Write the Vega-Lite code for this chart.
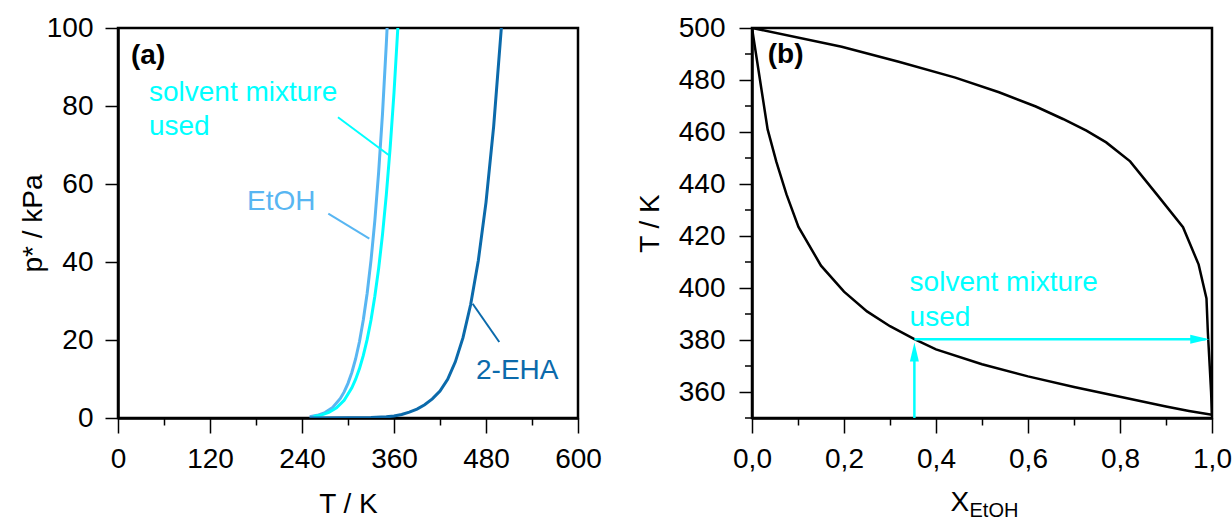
{
  "$schema": "https://vega.github.io/schema/vega-lite/v6.json",
  "padding": {"left": 17, "top": 12, "right": 0, "bottom": 0},
  "background": "white",
  "datasets": {
    "vp": [
      {"species": "EtOH", "T": 250, "p": 0.32}, {"species": "EtOH", "T": 260, "p": 0.68}, {"species": "EtOH", "T": 270, "p": 1.39},
      {"species": "EtOH", "T": 280, "p": 2.7}, {"species": "EtOH", "T": 290, "p": 5.0}, {"species": "EtOH", "T": 295, "p": 6.69},
      {"species": "EtOH", "T": 300, "p": 8.88}, {"species": "EtOH", "T": 305, "p": 11.67}, {"species": "EtOH", "T": 310, "p": 15.2},
      {"species": "EtOH", "T": 315, "p": 19.6}, {"species": "EtOH", "T": 320, "p": 25.2}, {"species": "EtOH", "T": 325, "p": 32.0},
      {"species": "EtOH", "T": 330, "p": 40.4}, {"species": "EtOH", "T": 335, "p": 50.6}, {"species": "EtOH", "T": 340, "p": 63.1},
      {"species": "EtOH", "T": 345, "p": 78.0}, {"species": "EtOH", "T": 350, "p": 96.0}, {"species": "EtOH", "T": 351, "p": 100.0},
      {"species": "EtOH", "T": 352, "p": 104.1},
      {"species": "solvent mixture", "T": 255, "p": 0.37}, {"species": "solvent mixture", "T": 265, "p": 0.74}, {"species": "solvent mixture", "T": 275, "p": 1.41},
      {"species": "solvent mixture", "T": 285, "p": 2.59}, {"species": "solvent mixture", "T": 295, "p": 4.56}, {"species": "solvent mixture", "T": 305, "p": 7.73},
      {"species": "solvent mixture", "T": 310, "p": 9.94}, {"species": "solvent mixture", "T": 315, "p": 12.67}, {"species": "solvent mixture", "T": 320, "p": 16.04},
      {"species": "solvent mixture", "T": 325, "p": 20.16}, {"species": "solvent mixture", "T": 330, "p": 25.15}, {"species": "solvent mixture", "T": 335, "p": 31.2},
      {"species": "solvent mixture", "T": 340, "p": 38.4}, {"species": "solvent mixture", "T": 345, "p": 47.0}, {"species": "solvent mixture", "T": 350, "p": 57.3},
      {"species": "solvent mixture", "T": 355, "p": 69.3}, {"species": "solvent mixture", "T": 360, "p": 83.4}, {"species": "solvent mixture", "T": 365, "p": 100.0},
      {"species": "solvent mixture", "T": 366, "p": 103.6},
      {"species": "2-EHA", "T": 250, "p": 0.01}, {"species": "2-EHA", "T": 300, "p": 0.05}, {"species": "2-EHA", "T": 330, "p": 0.12},
      {"species": "2-EHA", "T": 350, "p": 0.3}, {"species": "2-EHA", "T": 360, "p": 0.5}, {"species": "2-EHA", "T": 370, "p": 0.9},
      {"species": "2-EHA", "T": 380, "p": 1.5}, {"species": "2-EHA", "T": 390, "p": 2.3}, {"species": "2-EHA", "T": 400, "p": 3.4},
      {"species": "2-EHA", "T": 410, "p": 4.9}, {"species": "2-EHA", "T": 420, "p": 6.9}, {"species": "2-EHA", "T": 430, "p": 9.9},
      {"species": "2-EHA", "T": 440, "p": 14.4}, {"species": "2-EHA", "T": 450, "p": 20.6}, {"species": "2-EHA", "T": 460, "p": 29.1},
      {"species": "2-EHA", "T": 470, "p": 40.4}, {"species": "2-EHA", "T": 480, "p": 55.3}, {"species": "2-EHA", "T": 490, "p": 74.8},
      {"species": "2-EHA", "T": 500, "p": 100.0}, {"species": "2-EHA", "T": 501, "p": 102.9}
    ],
    "ptr_a": [
      {"species": "EtOH", "T1": 274.3, "p1": 52.4, "T2": 327.8, "p2": 46.0},
      {"species": "solvent mixture", "T1": 286.9, "p1": 77.1, "T2": 353.9, "p2": 67.3},
      {"species": "2-EHA", "T1": 462.6, "p1": 29.3, "T2": 497.3, "p2": 19.5}
    ],
    "lbl_a": [
      {"species": "solvent mixture", "T": 40.4, "p": 81.3, "text": "solvent mixture"},
      {"species": "solvent mixture", "T": 40.4, "p": 72.6, "text": "used"},
      {"species": "EtOH", "T": 168.3, "p": 53.4, "text": "EtOH"},
      {"species": "2-EHA", "T": 467, "p": 9.9, "text": "2-EHA"}
    ],
    "tag_a": [{"T": 17, "p": 92.7, "text": "(a)"}],
    "vle": [
      {"curve": "liquid", "i": 0, "X": 0, "T": 500}, {"curve": "liquid", "i": 1, "X": 0.02, "T": 477},
      {"curve": "liquid", "i": 2, "X": 0.034, "T": 461}, {"curve": "liquid", "i": 3, "X": 0.053, "T": 448.5},
      {"curve": "liquid", "i": 4, "X": 0.075, "T": 436}, {"curve": "liquid", "i": 5, "X": 0.101, "T": 423.5},
      {"curve": "liquid", "i": 6, "X": 0.15, "T": 408.6}, {"curve": "liquid", "i": 7, "X": 0.2, "T": 398.6},
      {"curve": "liquid", "i": 8, "X": 0.25, "T": 391}, {"curve": "liquid", "i": 9, "X": 0.3, "T": 385.3},
      {"curve": "liquid", "i": 10, "X": 0.353, "T": 380.3}, {"curve": "liquid", "i": 11, "X": 0.4, "T": 376.4},
      {"curve": "liquid", "i": 12, "X": 0.5, "T": 370.7}, {"curve": "liquid", "i": 13, "X": 0.6, "T": 366},
      {"curve": "liquid", "i": 14, "X": 0.7, "T": 361.9}, {"curve": "liquid", "i": 15, "X": 0.8, "T": 358.2},
      {"curve": "liquid", "i": 16, "X": 0.9, "T": 354.4}, {"curve": "liquid", "i": 17, "X": 0.95, "T": 352.7},
      {"curve": "liquid", "i": 18, "X": 1.0, "T": 351.2},
      {"curve": "vapour", "i": 0, "X": 0, "T": 500}, {"curve": "vapour", "i": 1, "X": 0.195, "T": 492.8},
      {"curve": "vapour", "i": 2, "X": 0.319, "T": 487.0}, {"curve": "vapour", "i": 3, "X": 0.442, "T": 480.9},
      {"curve": "vapour", "i": 4, "X": 0.537, "T": 475.3}, {"curve": "vapour", "i": 5, "X": 0.617, "T": 469.8},
      {"curve": "vapour", "i": 6, "X": 0.676, "T": 465.0}, {"curve": "vapour", "i": 7, "X": 0.727, "T": 460.5},
      {"curve": "vapour", "i": 8, "X": 0.77, "T": 456.0}, {"curve": "vapour", "i": 9, "X": 0.822, "T": 448.7},
      {"curve": "vapour", "i": 10, "X": 0.88, "T": 436.0}, {"curve": "vapour", "i": 11, "X": 0.937, "T": 423.4},
      {"curve": "vapour", "i": 12, "X": 0.971, "T": 409.0}, {"curve": "vapour", "i": 13, "X": 0.988, "T": 396.0},
      {"curve": "vapour", "i": 14, "X": 0.991, "T": 383.0}, {"curve": "vapour", "i": 15, "X": 0.995, "T": 370.0},
      {"curve": "vapour", "i": 16, "X": 0.998, "T": 360.0}, {"curve": "vapour", "i": 17, "X": 1.0, "T": 351.2}
    ],
    "minor_b": [
      {"T": 350}, {"T": 370}, {"T": 390}, {"T": 410}, {"T": 430}, {"T": 450}, {"T": 470}, {"T": 490}
    ],
    "arrows_b": [
      {"X1": 0.353, "T1": 350, "X2": 0.353, "T2": 372},
      {"X1": 0.353, "T1": 380.3, "X2": 0.986, "T2": 380.3}
    ],
    "head_up": [{"X": 0.353, "T": 379}],
    "head_right": [{"X": 0.994, "T": 380.3}],
    "lbl_b": [
      {"X": 0.3426, "T": 398.9, "text": "solvent mixture"},
      {"X": 0.3426, "T": 385.5, "text": "used"}
    ],
    "tag_b": [{"X": 0.0343, "T": 489.5, "text": "(b)"}],
    "sub_b": [{"X": 0.4728, "T": 312.0, "text": "EtOH"}]
  },
  "hconcat": [
    {
      "width": 460,
      "height": 390,
      "layer": [
        {
          "data": {"name": "vp"},
          "mark": {"type": "line", "strokeWidth": 3, "clip": true},
          "encoding": {
            "x": {
              "field": "T", "type": "quantitative",
              "scale": {"domain": [0, 600], "nice": false},
              "axis": {
                "title": "T / K",
                "values": [0, 60, 120, 180, 240, 300, 360, 420, 480, 540, 600],
                "labelExpr": "datum.value % 120 === 0 ? datum.label : ''",
                "tickSize": {"condition": {"test": "datum.value % 120 === 0", "value": 15}, "value": 7},
                "labelPadding": 34,
                "labelBaseline": "alphabetic",
                "titleY": 94,
                "titleBaseline": "alphabetic"
              }
            },
            "y": {
              "field": "p", "type": "quantitative",
              "scale": {"domain": [0, 100], "nice": false},
              "axis": {
                "title": "p* / kPa",
                "values": [0, 10, 20, 30, 40, 50, 60, 70, 80, 90, 100],
                "labelExpr": "datum.value % 20 === 0 ? datum.label : ''",
                "tickSize": {"condition": {"test": "datum.value % 20 === 0", "value": 13}, "value": 7},
                "labelPadding": 12,
                "titleX": -77,
                "titleY": 195,
                "titleBaseline": "alphabetic"
              }
            },
            "color": {
              "field": "species", "type": "nominal",
              "scale": {"domain": ["EtOH", "solvent mixture", "2-EHA"], "range": ["#58b6f2", "#00ffff", "#0b6aab"]},
              "legend": null
            },
            "order": {"field": "T", "type": "quantitative"}
          }
        },
        {
          "data": {"name": "ptr_a"},
          "mark": {"type": "rule", "strokeWidth": 2},
          "encoding": {
            "x": {"field": "T1", "type": "quantitative"},
            "y": {"field": "p1", "type": "quantitative"},
            "x2": {"field": "T2"},
            "y2": {"field": "p2"},
            "color": {"field": "species", "type": "nominal", "legend": null}
          }
        },
        {
          "data": {"name": "lbl_a"},
          "mark": {"type": "text", "align": "left", "baseline": "alphabetic", "fontSize": 28, "font": "Liberation Sans"},
          "encoding": {
            "x": {"field": "T", "type": "quantitative"},
            "y": {"field": "p", "type": "quantitative"},
            "text": {"field": "text"},
            "color": {"field": "species", "type": "nominal", "legend": null}
          }
        },
        {
          "data": {"name": "tag_a"},
          "mark": {"type": "text", "align": "left", "baseline": "middle", "fontSize": 28, "fontWeight": "bold", "color": "black", "font": "Liberation Sans"},
          "encoding": {
            "x": {"field": "T", "type": "quantitative"},
            "y": {"field": "p", "type": "quantitative"},
            "text": {"field": "text"}
          }
        }
      ]
    },
    {
      "width": 460,
      "height": 390,
      "layer": [
        {
          "data": {"name": "vle"},
          "mark": {"type": "line", "strokeWidth": 2.5, "color": "black", "clip": true},
          "encoding": {
            "x": {
              "field": "X", "type": "quantitative",
              "scale": {"domain": [0, 1], "nice": false},
              "axis": {
                "title": "X",
                "values": [0, 0.1, 0.2, 0.3, 0.4, 0.5, 0.6, 0.7, 0.8, 0.9, 1.0],
                "labelExpr": "round(datum.value * 10) % 2 === 0 ? replace(format(datum.value, '.1f'), '.', ',') : ''",
                "tickSize": {"condition": {"test": "round(datum.value * 10) % 2 === 0", "value": 15}, "value": 7},
                "labelPadding": 34,
                "labelBaseline": "alphabetic",
                "titleX": 198,
                "titleY": 92,
                "titleAlign": "left",
                "titleBaseline": "alphabetic"
              }
            },
            "y": {
              "field": "T", "type": "quantitative",
              "scale": {"domain": [350, 500], "nice": false},
              "axis": {
                "title": "T / K",
                "values": [360, 380, 400, 420, 440, 460, 480, 500],
                "format": "d",
                "tickSize": 13,
                "labelPadding": 14,
                "titleX": -94,
                "titleY": 195,
                "titleBaseline": "alphabetic"
              }
            },
            "detail": {"field": "curve", "type": "nominal"},
            "order": {"field": "i", "type": "quantitative"}
          }
        },
        {
          "data": {"name": "minor_b"},
          "mark": {"type": "tick", "orient": "horizontal", "size": 7, "thickness": 1.5, "xOffset": -3.5, "color": "black", "opacity": 1},
          "encoding": {
            "x": {"datum": 0, "type": "quantitative"},
            "y": {"field": "T", "type": "quantitative"}
          }
        },
        {
          "data": {"name": "arrows_b"},
          "mark": {"type": "rule", "strokeWidth": 2.5, "color": "#00ffff"},
          "encoding": {
            "x": {"field": "X1", "type": "quantitative"},
            "y": {"field": "T1", "type": "quantitative"},
            "x2": {"field": "X2"},
            "y2": {"field": "T2"}
          }
        },
        {
          "data": {"name": "head_up"},
          "mark": {"type": "point", "shape": "M 0 0 L 0.45 1.9 L -0.45 1.9 Z", "size": 400, "filled": true, "color": "#00ffff", "opacity": 1, "strokeWidth": 0},
          "encoding": {
            "x": {"field": "X", "type": "quantitative"},
            "y": {"field": "T", "type": "quantitative"}
          }
        },
        {
          "data": {"name": "head_right"},
          "mark": {"type": "point", "shape": "M 0 0 L -1.9 -0.45 L -1.9 0.45 Z", "size": 400, "filled": true, "color": "#00ffff", "opacity": 1, "strokeWidth": 0},
          "encoding": {
            "x": {"field": "X", "type": "quantitative"},
            "y": {"field": "T", "type": "quantitative"}
          }
        },
        {
          "data": {"name": "lbl_b"},
          "mark": {"type": "text", "align": "left", "baseline": "alphabetic", "fontSize": 28, "color": "#00ffff", "font": "Liberation Sans"},
          "encoding": {
            "x": {"field": "X", "type": "quantitative"},
            "y": {"field": "T", "type": "quantitative"},
            "text": {"field": "text"}
          }
        },
        {
          "data": {"name": "tag_b"},
          "mark": {"type": "text", "align": "left", "baseline": "middle", "fontSize": 28, "fontWeight": "bold", "color": "black", "font": "Liberation Sans"},
          "encoding": {
            "x": {"field": "X", "type": "quantitative"},
            "y": {"field": "T", "type": "quantitative"},
            "text": {"field": "text"}
          }
        },
        {
          "data": {"name": "sub_b"},
          "mark": {"type": "text", "align": "left", "baseline": "alphabetic", "fontSize": 20, "color": "black", "font": "Liberation Sans", "clip": false},
          "encoding": {
            "x": {"field": "X", "type": "quantitative"},
            "y": {"field": "T", "type": "quantitative"},
            "text": {"field": "text"}
          }
        }
      ]
    }
  ],
  "spacing": 174,
  "bounds": "flush",
  "resolve": {"scale": {"x": "independent", "y": "independent", "color": "independent"}},
  "config": {
    "font": "Liberation Sans",
    "view": {"stroke": "black", "strokeWidth": 2.5},
    "axis": {
      "grid": false,
      "labelFont": "Liberation Sans",
      "titleFont": "Liberation Sans",
      "labelFontSize": 28,
      "titleFontSize": 28,
      "labelColor": "black",
      "titleColor": "black",
      "titleFontWeight": "normal",
      "domainColor": "black",
      "domainWidth": 2.5,
      "tickColor": "black",
      "tickWidth": 1.5,
      "labelOverlap": false,
      "labelFlush": false,
      "labelBound": false
    }
  }
}
